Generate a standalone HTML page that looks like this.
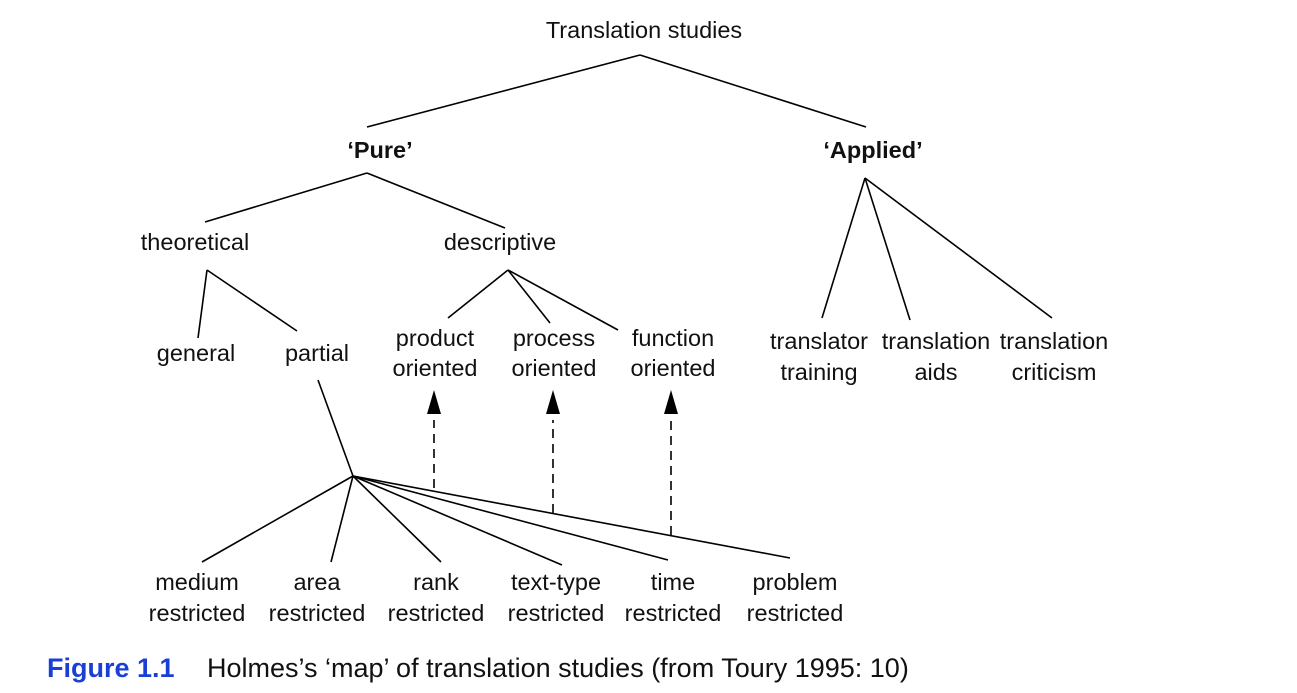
<!DOCTYPE html>
<html><head><meta charset="utf-8"><style>
html,body{margin:0;padding:0;background:#fff;}
svg{display:block;}
text{font-family:"Liberation Sans",Arial,sans-serif;font-size:23.5px;fill:#111;}
</style></head><body>
<svg width="1297" height="693" viewBox="0 0 1297 693" xmlns="http://www.w3.org/2000/svg">
<g stroke="#000" stroke-width="1.6" fill="none">
<line x1="640" y1="55" x2="367" y2="127"/>
<line x1="640" y1="55" x2="866" y2="127"/>
<line x1="367" y1="173" x2="205" y2="222"/>
<line x1="367" y1="173" x2="505" y2="228"/>
<line x1="207" y1="270" x2="198" y2="338"/>
<line x1="207" y1="270" x2="297" y2="331"/>
<line x1="508" y1="270" x2="448" y2="318"/>
<line x1="508" y1="270" x2="550" y2="323"/>
<line x1="508" y1="270" x2="618" y2="330"/>
<line x1="865" y1="178" x2="822" y2="318"/>
<line x1="865" y1="178" x2="910" y2="320"/>
<line x1="865" y1="178" x2="1052" y2="318"/>
<line x1="318" y1="380" x2="353" y2="476"/>
<line x1="353" y1="476" x2="202" y2="562"/>
<line x1="353" y1="476" x2="331" y2="562"/>
<line x1="353" y1="476" x2="441" y2="562"/>
<line x1="353" y1="476" x2="562" y2="565"/>
<line x1="353" y1="476" x2="668" y2="560"/>
<line x1="353" y1="476" x2="790" y2="558"/>
<g stroke-dasharray="9,6">
<line x1="434" y1="488" x2="434" y2="420"/>
<line x1="553" y1="513" x2="553" y2="420"/>
<line x1="671" y1="535" x2="671" y2="420"/>
</g>
</g>
<g fill="#000">
<polygon points="434,390 427,414 441,414"/>
<polygon points="553,390 546,414 560,414"/>
<polygon points="671,390 664,414 678,414"/>
</g>
<g text-anchor="middle">
<text x="644" y="38">Translation studies</text>
<text x="380" y="158" font-weight="bold">‘Pure’</text>
<text x="873" y="158" font-weight="bold">‘Applied’</text>
<text x="195" y="250">theoretical</text>
<text x="500" y="250">descriptive</text>
<text x="196" y="361">general</text>
<text x="317" y="361">partial</text>
<text x="435" y="346">product</text><text x="435" y="376">oriented</text>
<text x="554" y="346">process</text><text x="554" y="376">oriented</text>
<text x="673" y="346">function</text><text x="673" y="376">oriented</text>
<text x="819" y="349">translator</text><text x="819" y="380">training</text>
<text x="936" y="349">translation</text><text x="936" y="380">aids</text>
<text x="1054" y="349">translation</text><text x="1054" y="380">criticism</text>
<text x="197" y="590">medium</text><text x="197" y="621">restricted</text>
<text x="317" y="590">area</text><text x="317" y="621">restricted</text>
<text x="436" y="590">rank</text><text x="436" y="621">restricted</text>
<text x="556" y="590">text-type</text><text x="556" y="621">restricted</text>
<text x="673" y="590">time</text><text x="673" y="621">restricted</text>
<text x="795" y="590">problem</text><text x="795" y="621">restricted</text>
</g>
<text x="47" y="677" font-weight="bold" style="fill:#1a3fd6;font-size:27px">Figure 1.1</text>
<text x="207" y="677" style="font-size:27px">Holmes’s ‘map’ of translation studies (from Toury 1995: 10)</text>
</svg>
</body></html>
